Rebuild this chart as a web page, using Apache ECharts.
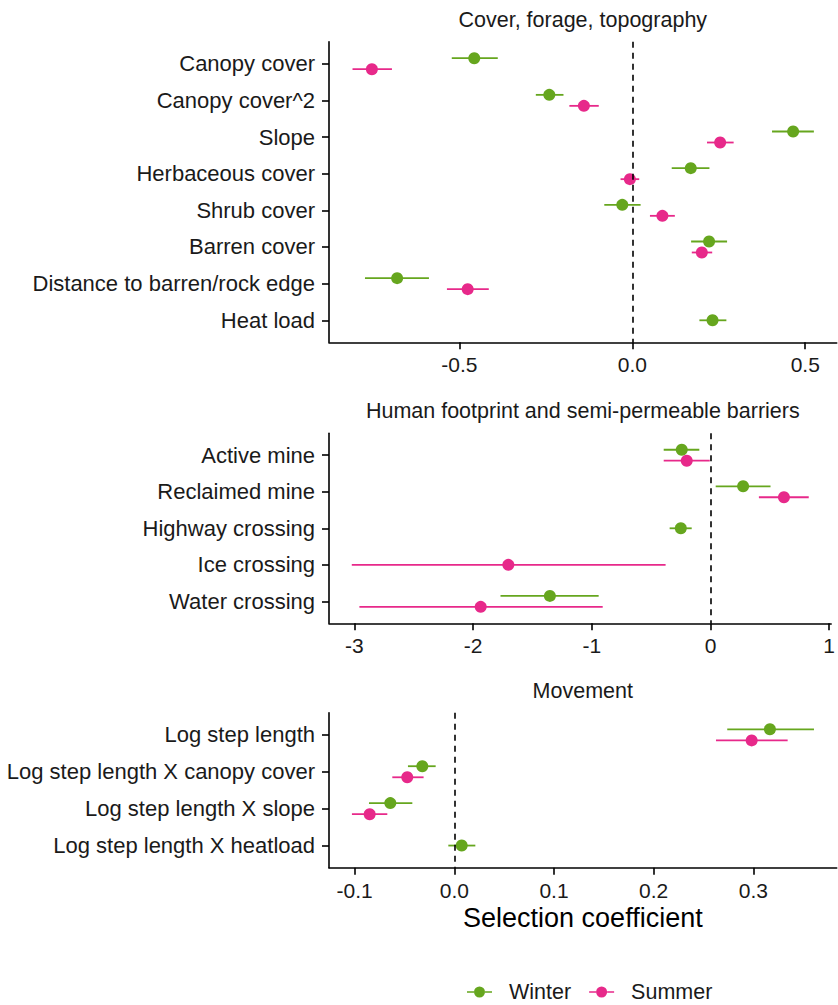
<!DOCTYPE html>
<html>
<head>
<meta charset="utf-8">
<script src="https://cdn.jsdelivr.net/npm/echarts@6/dist/echarts.min.js"></script>
<style>
  html, body { margin: 0; padding: 0; background: #fff; }
  #chart { width: 838px; height: 1005px; }
</style>
</head>
<body>
<div id="chart"></div>
<script>
  // [estimate, lower, upper]; null = not estimated for that season
  const coverCats = ['Canopy cover', 'Canopy cover^2', 'Slope', 'Herbaceous cover', 'Shrub cover',
    'Barren cover', 'Distance to barren/rock edge', 'Heat load'];
  const coverWinter = [[-0.457, -0.522, -0.389], [-0.240, -0.279, -0.199], [0.465, 0.404, 0.525],
    [0.169, 0.114, 0.223], [-0.029, -0.081, 0.024], [0.222, 0.170, 0.274], [-0.680, -0.773, -0.588],
    [0.232, 0.194, 0.272]];
  const coverSummer = [[-0.753, -0.809, -0.695], [-0.140, -0.182, -0.097], [0.254, 0.216, 0.293],
    [-0.007, -0.034, 0.020], [0.087, 0.051, 0.123], [0.201, 0.172, 0.231], [-0.476, -0.536, -0.415],
    null];
  const coverTicks = [-0.5, 0, 0.5];

  const humanCats = ['Active mine', 'Reclaimed mine', 'Highway crossing', 'Ice crossing', 'Water crossing'];
  const humanWinter = [[-0.242, -0.394, -0.094], [0.275, 0.044, 0.506], [-0.250, -0.344, -0.158],
    null, [-1.353, -1.769, -0.942]];
  const humanSummer = [[-0.200, -0.394, -0.006], [0.619, 0.408, 0.828], null,
    [-1.703, -3.022, -0.378], [-1.936, -2.958, -0.908]];
  const humanTicks = [-3, -2, -1, 0, 1];

  const moveCats = ['Log step length', 'Log step length X canopy cover', 'Log step length X slope',
    'Log step length X heatload'];
  const moveWinter = [[0.3166, 0.2738, 0.3608], [-0.0321, -0.0465, -0.0187], [-0.0642, -0.0856, -0.0421],
    [0.0074, -0.0060, 0.0211]];
  const moveSummer = [[0.2983, 0.2625, 0.3344], [-0.0472, -0.0622, -0.0308], [-0.0849, -0.1027, -0.0672],
    null];
  const moveTicks = [-0.1, 0, 0.1, 0.2, 0.3];

  const seasons = ['Winter', 'Summer'];

  const FONT = "'Liberation Sans', Arial, sans-serif";
  const GREEN = '#66A61E';
  const PINK = '#E7298A';
  const INK = '#1a1a1a';

  const panels = [
    { title: 'Cover, forage, topography', cats: coverCats, w: coverWinter, s: coverSummer,
      ticks: coverTicks, dec: 1, min: -0.877, max: 0.591, top: 41.7, height: 300.6 },
    { title: 'Human footprint and semi-permeable barriers', cats: humanCats, w: humanWinter, s: humanSummer,
      ticks: humanTicks, dec: 0, min: -3.214, max: 1.017, top: 433.3, height: 190 },
    { title: 'Movement', cats: moveCats, w: moveWinter, s: moveSummer,
      ticks: moveTicks, dec: 1, min: -0.1257, max: 0.3836, top: 712.7, height: 155 }
  ];

  function renderEstimate(params, api) {
    const y = api.value(3);
    const dodge = api.value(4);
    const band = Math.abs(api.size([0, 1])[1]);
    const p = api.coord([api.value(0), y]);
    const lo = api.coord([api.value(1), y]);
    const hi = api.coord([api.value(2), y]);
    const py = p[1] + dodge * band * 0.15;
    const color = api.visual('color');
    return {
      type: 'group',
      children: [
        { type: 'line', shape: { x1: lo[0], y1: py, x2: hi[0], y2: py },
          style: { stroke: color, lineWidth: 1.8 } },
        { type: 'circle', shape: { cx: p[0], cy: py, r: 6 }, style: { fill: color } }
      ]
    };
  }

  const grid = [], xAxis = [], yAxis = [], series = [], graphic = [];

  panels.forEach((pn, k) => {
    grid.push({ left: 329, right: 1.3, top: pn.top, height: pn.height });
    xAxis.push({
      type: 'value', gridIndex: k, min: pn.min, max: pn.max,
      splitLine: { show: false },
      axisLine: { onZero: false, lineStyle: { color: '#000', width: 1.6 } },
      axisTick: { customValues: pn.ticks, length: 7, lineStyle: { color: '#000', width: 1.6 } },
      axisLabel: { customValues: pn.ticks, margin: 12, color: INK, fontSize: 21, fontFamily: FONT,
        formatter: v => v.toFixed(pn.dec) },
      name: k === 2 ? 'Selection coefficient' : '',
      nameLocation: 'middle', nameGap: 37,
      nameTextStyle: { color: '#000', fontSize: 27, fontFamily: FONT }
    });
    const idx = pn.cats.map((c, i) => i);
    yAxis.push({
      type: 'value', gridIndex: k, inverse: true, min: -0.6, max: pn.cats.length - 0.4,
      splitLine: { show: false },
      axisLine: { onZero: false, lineStyle: { color: '#000', width: 1.6 } },
      axisTick: { customValues: idx, length: 7, lineStyle: { color: '#000', width: 1.6 } },
      axisLabel: { customValues: idx, margin: 14, color: INK, fontSize: 22, fontFamily: FONT,
        formatter: v => pn.cats[Math.round(v)] }
    });
    [pn.w, pn.s].forEach((vals, j) => {
      const other = j === 0 ? pn.s : pn.w;
      const data = [];
      vals.forEach((v, i) => {
        if (!v) return;
        const dodge = other[i] ? (j === 0 ? -1 : 1) : 0;
        data.push([v[0], v[1], v[2], i, dodge]);
      });
      const s = {
        name: seasons[j], type: 'custom', xAxisIndex: k, yAxisIndex: k,
        color: j === 0 ? GREEN : PINK,
        renderItem: renderEstimate,
        encode: { x: [0, 1, 2], y: 3 },
        data: data, silent: true
      };
      if (j === 1) {
        s.markLine = {
          silent: true, symbol: 'none', label: { show: false }, z: 10,
          lineStyle: { color: '#000', type: [6, 5], width: 1.6 },
          data: [{ xAxis: 0 }]
        };
      }
      series.push(s);
    });
    graphic.push({
      type: 'text', x: 329 + 253.8, y: pn.top - 22,
      style: { text: pn.title, textAlign: 'center', textVerticalAlign: 'middle',
        fill: INK, fontSize: 21.5, fontFamily: FONT }
    });
  });

  // line + dot key like the ggplot legend
  const legendIcon = 'path://M0,5.2 L7,5.2 L7,6.8 L0,6.8 Z M18,5.2 L25,5.2 L25,6.8 L18,6.8 Z ' +
    'M7,6 A5.5,5.5 0 1 1 18,6 A5.5,5.5 0 1 1 7,6 Z';

  const chart = echarts.init(document.getElementById('chart'), null, { renderer: 'svg' });
  chart.setOption({
    animation: false,
    backgroundColor: '#fff',
    grid: grid,
    xAxis: xAxis,
    yAxis: yAxis,
    legend: {
      left: 467, top: 981, padding: 0,
      itemWidth: 25, itemHeight: 11, itemGap: 18,
      selectedMode: false,
      data: seasons.map(n => ({ name: n, icon: legendIcon })),
      textStyle: { color: INK, fontSize: 21.5, fontFamily: FONT, padding: [0, 0, 0, 12] }
    },
    graphic: graphic,
    series: series
  });
</script>
</body>
</html>
